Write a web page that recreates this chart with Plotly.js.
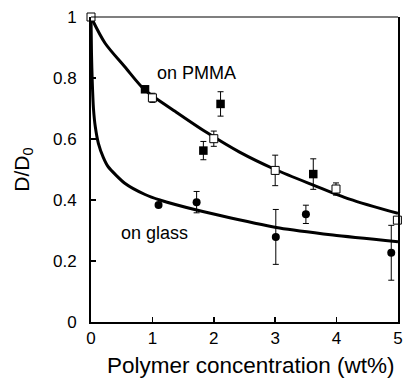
<!DOCTYPE html>
<html>
<head>
<meta charset="utf-8">
<script src="https://cdn.plot.ly/plotly-3.0.1.min.js"></script>
<style>html,body{margin:0;padding:0;background:#fff;}#chart{width:409px;height:379px;}</style>
</head>
<body>
<div id="chart"></div>
<script>
// Fitted curves
const pmmaCurveX = [0, 0.23, 0.55, 0.88, 1.39, 1.88, 2.42, 3.0, 3.62, 4.21, 5.0];
const pmmaCurveY = [1, 0.914, 0.837, 0.76, 0.688, 0.622, 0.557, 0.50, 0.449, 0.403, 0.356];
const glassCurveX = [0, 0.008, 0.02, 0.04, 0.07, 0.12, 0.2, 0.28, 0.55, 0.88, 1.12, 1.72, 2.26, 3.07, 3.94, 5.0];
const glassCurveY = [1, 0.88, 0.79, 0.70, 0.64, 0.586, 0.54, 0.509, 0.455, 0.418, 0.40, 0.367, 0.342, 0.308, 0.285, 0.263];

// Measured data
const pmmaFilledX = [0.88, 1.83, 2.11, 3.62];
const pmmaFilledY = [0.763, 0.562, 0.715, 0.485];
const pmmaFilledErr = [0.01, 0.03, 0.04, 0.05];

const pmmaOpenX = [0, 1.0, 2.0, 3.0, 3.99, 4.99];
const pmmaOpenY = [1, 0.735, 0.601, 0.497, 0.436, 0.334];
const pmmaOpenErr = [0, 0.015, 0.025, 0.05, 0.02, 0];

const glassX = [1.1, 1.72, 3.01, 3.5, 4.89];
const glassY = [0.384, 0.393, 0.279, 0.353, 0.227];
const glassErr = [0, 0.035, 0.09, 0.03, 0.09];

const xTicks = [0, 1, 2, 3, 4, 5];
const yTicks = [0, 0.2, 0.4, 0.6, 0.8, 1];

const font = 'Liberation Sans, Arial, Helvetica, sans-serif';
const errStyle = {type: 'data', visible: true, color: '#000', thickness: 1, width: 3};

const traces = [
  {x: pmmaCurveX, y: pmmaCurveY, mode: 'lines', line: {color: '#000', width: 3, shape: 'spline', smoothing: 0.8}, cliponaxis: false},
  {x: glassCurveX, y: glassCurveY, mode: 'lines', line: {color: '#000', width: 3, shape: 'spline', smoothing: 0.6}, cliponaxis: false},
  {x: pmmaFilledX, y: pmmaFilledY, mode: 'markers', marker: {symbol: 'square', size: 8.5, color: '#000'},
   error_y: Object.assign({array: pmmaFilledErr}, errStyle), cliponaxis: false},
  {x: pmmaOpenX, y: pmmaOpenY, mode: 'markers', marker: {symbol: 'square', size: 8, color: '#fff', line: {color: '#000', width: 1}},
   error_y: Object.assign({array: pmmaOpenErr}, errStyle), cliponaxis: false},
  {x: glassX, y: glassY, mode: 'markers', marker: {symbol: 'circle', size: 8, color: '#000'},
   error_y: Object.assign({array: glassErr}, errStyle), cliponaxis: false}
];

const layout = {
  width: 409, height: 379,
  margin: {l: 91, r: 11, t: 17, b: 57},
  paper_bgcolor: '#fff', plot_bgcolor: '#fff',
  showlegend: false,
  font: {family: font, color: '#000', size: 17},
  xaxis: {
    range: [0, 5], tickvals: xTicks, ticktext: xTicks.map(String),
    ticks: 'inside', ticklen: 5, tickwidth: 1.5, tickcolor: '#000',
    showline: true, linewidth: 2, linecolor: '#000', mirror: false,
    showgrid: false, zeroline: false, ticklabelstandoff: 0,
    tickfont: {size: 17}
  },
  yaxis: {
    range: [0, 1], tickvals: yTicks, ticktext: yTicks.map(String),
    ticks: 'inside', ticklen: 5, tickwidth: 1.5, tickcolor: '#000',
    showline: true, linewidth: 2, linecolor: '#000', mirror: true,
    showgrid: false, zeroline: false, ticklabelstandoff: 9,
    tickfont: {size: 17},
    title: {text: 'D/D<sub>0</sub>', font: {size: 21}, standoff: 18}
  },
  shapes: [
    {type: 'line', xref: 'paper', yref: 'paper', x0: 0, x1: 1, y0: 1, y1: 1, line: {color: '#000', width: 1.2}}
  ],
  annotations: [
    {x: 1.72, y: 0.816, xref: 'x', yref: 'y', text: 'on PMMA', showarrow: false, font: {size: 18}},
    {x: 1.03, y: 0.293, xref: 'x', yref: 'y', text: 'on glass', showarrow: false, font: {size: 18}},
    {x: 0.522, y: 0, xref: 'paper', yref: 'paper', yshift: -43, yanchor: 'middle', xanchor: 'center',
     text: 'Polymer concentration (wt%)', showarrow: false, font: {size: 22.5}, borderpad: 0}
  ]
};

Plotly.newPlot('chart', traces, layout, {staticPlot: true, displayModeBar: false});
</script>
</body>
</html>
